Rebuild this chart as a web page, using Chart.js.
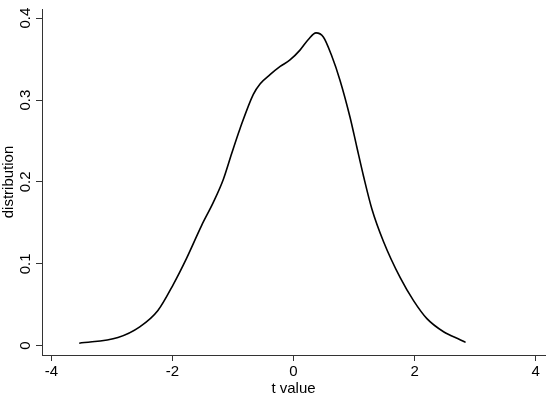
<!DOCTYPE html>
<html>
<head>
<meta charset="utf-8">
<script src="https://cdn.jsdelivr.net/npm/chart.js@4/dist/chart.umd.min.js"></script>
<style>
  html, body { margin: 0; padding: 0; background: #ffffff; }
  #wrap { width: 548px; height: 396px; }
</style>
</head>
<body>
<div id="wrap"><canvas id="c" width="548" height="396"></canvas></div>
<script>
// t values (x) and estimated density (y)
const tValues = [
  -3.54, -2.90, -2.54, -2.24, -1.985, -1.765, -1.517, -1.325, -1.16,
  -1.02, -0.884, -0.664, -0.55, -0.388, -0.22, -0.058, 0.107, 0.245, 0.372,
  0.493, 0.631, 0.769, 0.934, 1.045, 1.157, 1.295, 1.488, 1.763, 1.983,
  2.204, 2.479, 2.76, 2.843
];
const densityValues = [
  0.003, 0.010, 0.023, 0.043, 0.075, 0.107, 0.147, 0.175, 0.203,
  0.235, 0.265, 0.307, 0.320, 0.331, 0.341, 0.349, 0.361, 0.374, 0.382,
  0.377, 0.354, 0.324, 0.279, 0.243, 0.207, 0.167, 0.127, 0.083, 0.055,
  0.033, 0.017, 0.007, 0.004
];
const xTickValues = [-4, -2, 0, 2, 4];
const yTickValues = [0, 0.1, 0.2, 0.3, 0.4];
const xTitle = 't value';
const yTitle = 'distribution';

const points = tValues.map((t, i) => ({ x: t, y: densityValues[i] }));
const FONT = { family: '"Liberation Sans", Arial, sans-serif', size: 15 };
const TITLE_FONT_X = { family: '"Liberation Sans", Arial, sans-serif', size: 15, lineHeight: 1.0 };
const AXIS_COLOR = '#333333';

new Chart(document.getElementById('c'), {
  type: 'line',
  data: {
    datasets: [{
      data: points,
      borderColor: '#000000',
      borderWidth: 1.6,
      pointRadius: 0,
      cubicInterpolationMode: 'monotone',
      fill: false
    }]
  },
  options: {
    responsive: false,
    animation: false,
    devicePixelRatio: 1,
    layout: { padding: { left: 0, right: 3, top: 3, bottom: 0 } },
    plugins: { legend: { display: false }, tooltip: { enabled: false } },
    scales: {
      x: {
        type: 'linear',
        min: -4.155,
        max: 4.155,
        afterBuildTicks: (s) => { s.ticks = xTickValues.map(v => ({ value: v })); },
        afterFit: (s) => { s.height = 41; },
        border: { display: true, color: AXIS_COLOR, width: 1 },
        grid: { drawOnChartArea: false, drawTicks: true, tickLength: 6, color: AXIS_COLOR, lineWidth: 1 },
        ticks: {
          color: '#000000', font: FONT, padding: 2, maxRotation: 0, minRotation: 0,
          callback: (v) => String(v)
        },
        title: { display: true, text: xTitle, color: '#000000', font: TITLE_FONT_X, padding: { top: 0, bottom: 0 } }
      },
      y: {
        type: 'linear',
        min: -0.0114,
        max: 0.4112,
        afterBuildTicks: (s) => { s.ticks = yTickValues.map(v => ({ value: v })); },
        afterFit: (s) => { s.width = 42; },
        border: { display: true, color: AXIS_COLOR, width: 1 },
        grid: { drawOnChartArea: false, drawTicks: true, tickLength: 6, color: AXIS_COLOR, lineWidth: 1 },
        ticks: {
          color: '#000000', font: FONT, padding: 0, minRotation: 90, maxRotation: 90,
          crossAlign: 'center',
          callback: (v) => (v === 0 ? '0' : Number(v).toFixed(1))
        },
        title: { display: true, text: yTitle, color: '#000000', font: FONT, padding: { top: 0, bottom: 0 } }
      }
    }
  }
});
</script>
</body>
</html>
